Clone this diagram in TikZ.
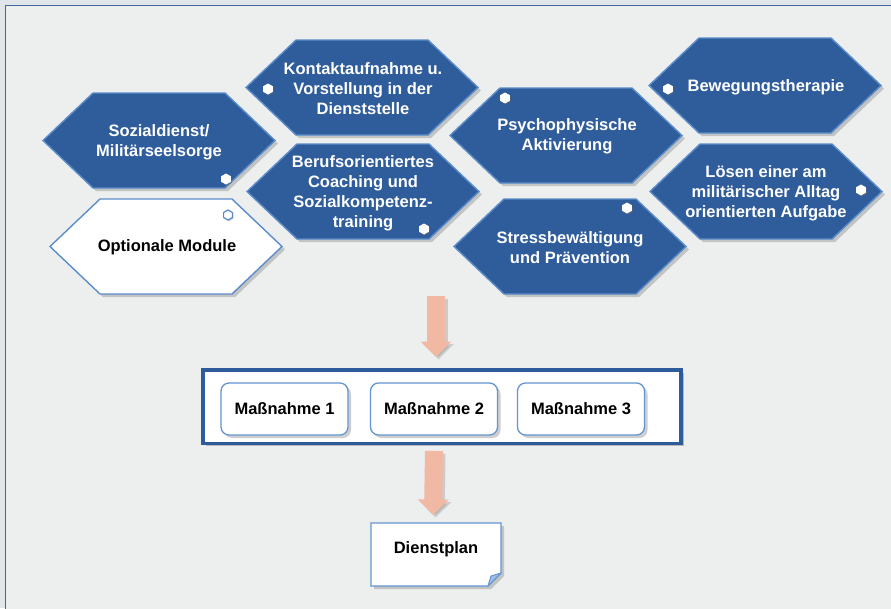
\documentclass[tikz,border=0pt]{standalone}
\usepackage{fontspec}
\setmainfont{Liberation Sans}
\usetikzlibrary{shadows,arrows.meta,calc}
\definecolor{hexfill}{HTML}{2F5D9C}
\definecolor{hexedge}{HTML}{5B8DCB}
\definecolor{bgcol}{HTML}{EDEEEE}
\definecolor{bandcol}{HTML}{E1E6EB}
\definecolor{framecol}{HTML}{3F68A3}
\definecolor{salmon}{HTML}{F1B8A4}
\definecolor{boxedge}{HTML}{6395D2}
\definecolor{contedge}{HTML}{2E5C9A}
\begin{document}
\begin{tikzpicture}[x=1pt,y=-1pt,
  hshadow/.style={drop shadow={shadow xshift=3pt,shadow yshift=-3pt,opacity=.35,fill=black!55}},
  bluehexstyle/.style={fill=hexfill,draw=hexedge,line width=1.4pt,line join=miter,hshadow},
  whitehexstyle/.style={fill=white,draw=hexedge,line width=1.4pt,hshadow},
  hextext/.style={text=white,font=\fontsize{16.5}{20}\selectfont\bfseries,align=center,inner sep=0pt},
  darktext/.style={text=black,font=\fontsize{16.5}{20}\selectfont\bfseries,align=center,inner sep=0pt},
  pics/bluehex/.style={code={\path[bluehexstyle] (-116,0) -- (-66,-47.5) -- (66,-47.5) -- (116,0) -- (66,47.5) -- (-66,47.5) -- cycle;}},
  pics/whitehex/.style={code={\path[whitehexstyle] (-116,0) -- (-66,-47.5) -- (66,-47.5) -- (116,0) -- (66,47.5) -- (-66,47.5) -- cycle;}},
  pics/bullet/.style={code={\path[fill=white,drop shadow={shadow xshift=1pt,shadow yshift=-1.2pt,opacity=.45,fill=black!60}] (0,-5.5) -- (4.8,-2.8) -- (4.8,2.8) -- (0,5.5) -- (-4.8,2.8) -- (-4.8,-2.8) -- cycle;}},
  pics/obullet/.style={code={\path[fill=white,draw=hexedge,line width=1.2pt,drop shadow={shadow xshift=1pt,shadow yshift=-1.2pt,opacity=.35,fill=black!60}] (0,-5) -- (4.4,-2.5) -- (4.4,2.5) -- (0,5) -- (-4.4,2.5) -- (-4.4,-2.5) -- cycle;}},
  mbox/.style={draw=boxedge,line width=1.3pt,fill=white,rounded corners=8pt,minimum width=127pt,minimum height=52pt,inner sep=0pt,
    font=\fontsize{16.5}{20}\selectfont\bfseries,drop shadow={shadow xshift=3pt,shadow yshift=-3pt,opacity=.35,fill=black!55}},
  bigarrow/.style={draw=salmon,line width=18pt,-{Triangle[length=15.5pt,width=30pt]}},
  arrowshadow/.style={draw=black!45,opacity=.35,line width=18pt,-{Triangle[length=15.5pt,width=30pt]},transform canvas={shift={(2.5pt,-2.5pt)}}}
]
\useasboundingbox (0,0) rectangle (891,608);
\fill[bandcol] (0,0) rectangle (891,608);
\path[fill=bgcol,draw=framecol,line width=1.6pt] (5.5,5.5) rectangle (900,620);

% hexagons
\pic at (159,140.5) {bluehex};
\pic at (166,246.5) {whitehex};
\pic at (362,87.5) {bluehex};
\pic at (363,191.5) {bluehex};
\pic at (566,135.5) {bluehex};
\pic at (570,246.5) {bluehex};
\pic at (765,85.5) {bluehex};
\pic at (766,191.5) {bluehex};

% bullets
\pic at (226,179) {bullet};
\pic at (228,215) {obullet};
\pic at (268,89) {bullet};
\pic at (424,229) {bullet};
\pic at (505,98) {bullet};
\pic at (627,208) {bullet};
\pic at (668,89) {bullet};
\pic at (861,190) {bullet};

% hexagon texts
\node[hextext] (soz) at (159,142.5) {Sozialdienst/\\Militärseelsorge};
\node[darktext] (opt) at (167,247) {Optionale Module};
\node[hextext] (kont) at (363,89) {Kontaktaufnahme u.\\Vorstellung in der\\Dienststelle};
\node[hextext] (beruf) at (363,193) {Berufsorientiertes\\Coaching und\\Sozialkompetenz-\\training};
\node[hextext] (psy) at (567,136) {Psychophysische\\Aktivierung};
\node[hextext] (stress) at (570,248) {Stressbewältigung\\und Prävention};
\node[hextext] (beweg) at (766,87) {Bewegungstherapie};
\node[hextext] (loes) at (766,193) {Lösen einer am\\militärischer Alltag\\orientierten Aufgabe};

% container with measures
\node[draw=contedge,line width=3.5pt,fill=white,minimum width=478pt,minimum height=73.5pt,inner sep=0pt,
  drop shadow={shadow xshift=3pt,shadow yshift=-3pt,opacity=.4,fill=black!60}] (cont) at (442,406.5) {};
\node[mbox] (m1) at (284.5,409) {Maßnahme 1};
\node[mbox] (m2) at (434,409) {Maßnahme 2};
\node[mbox] (m3) at (581,409) {Maßnahme 3};

% Dienstplan (folded note)
\path[fill=white,draw=boxedge,line width=1.3pt,drop shadow={shadow xshift=3pt,shadow yshift=-3pt,opacity=.35,fill=black!55}]
  (371,523) -- (501,523) -- (501,573) -- (488,586) -- (371,586) -- cycle;
\path[fill=boxedge!60,draw=boxedge,line width=1pt,line join=round] (501,573) -- (491,576) -- (488,586) -- cycle;
\node[darktext] (plan) at (436,549) {Dienstplan};

% arrows
\coordinate (a1s) at (436,296);
\coordinate (a2s) at ($(cont.south)+(-8,6)$);
\coordinate (a1e) at ($(cont.north)+(-6,-11)$);
\coordinate (a2e) at (433,515);
\draw[arrowshadow] (a1s) -- (a1e);
\draw[bigarrow] (a1s) -- (a1e);
\draw[arrowshadow] (a2s) -- (a2e);
\draw[bigarrow] (a2s) -- (a2e);
\end{tikzpicture}
\end{document}
